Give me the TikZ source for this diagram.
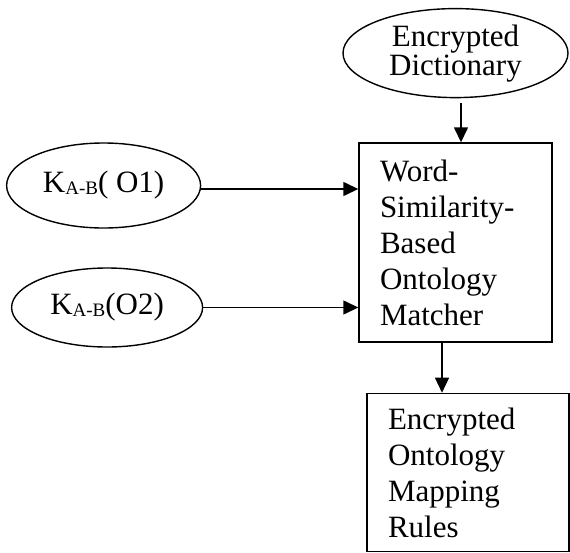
\documentclass[tikz,border=0pt]{standalone}
\usepackage{fontspec}
\setmainfont{Liberation Serif}
\usetikzlibrary{positioning,shapes.geometric,arrows.meta}

\begin{document}
\begin{tikzpicture}[x=1pt,y=-1pt,line width=1.4pt,
						oval/.style={ellipse,draw,inner sep=0pt,font=\fontsize{31}{36}\selectfont},
						procbox/.style={rectangle,draw,inner xsep=21pt,inner ysep=0pt,align=left,font=\fontsize{31}{36}\selectfont},
						arr/.style={-{Triangle[length=15pt,width=14pt]}}]
		\useasboundingbox (0,0) rectangle (570,552);
		\node[procbox,minimum width=193pt,minimum height=199pt,text width=151pt]	(match)	at (455.5,242.5)	{Word-\\Similarity-\\Based\\Ontology\\Matcher};
		\node[oval,minimum width=225pt,minimum height=89pt,align=center,
			font=\fontsize{31}{29}\selectfont,node distance=44pt,above=of match]	(dict)	{Encrypted\\Dictionary};
		\node[oval,minimum width=194pt,minimum height=85pt,
			node distance=157pt,left=of match,yshift=57pt]		(k1)	{K\raisebox{-2pt}{\fontsize{19}{19}\selectfont A-B}( O1)};
		\node[oval,minimum width=191pt,minimum height=79pt,
			node distance=155pt,left=of match,yshift=-65pt]		(k2)	{K\raisebox{-2pt}{\fontsize{19}{19}\selectfont A-B}(O2)};
		\node[procbox,minimum width=202pt,minimum height=158pt,text width=160pt,
			node distance=50pt,below=of match,xshift=12.5pt]	(rules)	{Encrypted\\Ontology\\Mapping\\Rules};

		\draw[arr] ([xshift=5.5pt,yshift=-5pt]dict.south) -- ([xshift=5.5pt]dict.south |- match.north);
		\draw[arr] ([yshift=-3.5pt]k1.east) -- ([yshift=-3.5pt]k1.east -| match.west);
		\draw[arr] (k2.east) -- (k2.east -| match.west);
		\draw[arr] ([xshift=-13.5pt]match.south) -- ([xshift=-13.5pt]match.south |- rules.north);
	\end{tikzpicture}
\end{document}
